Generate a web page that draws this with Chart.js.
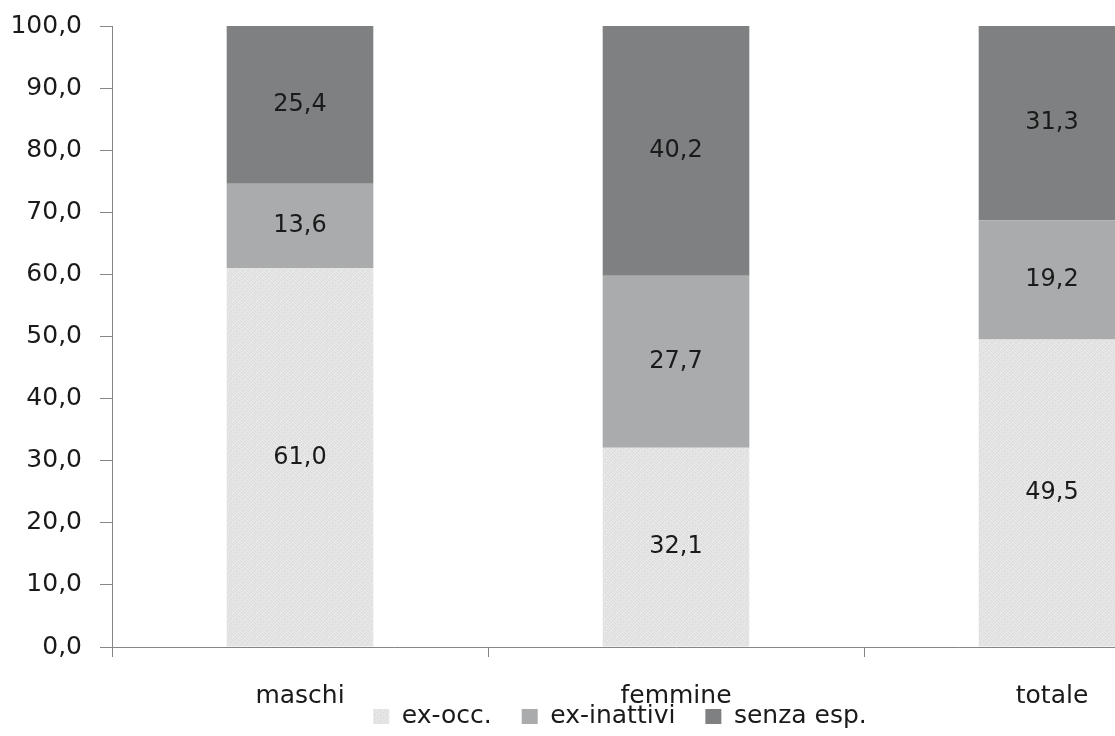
<!DOCTYPE html>
<html>
<head>
<meta charset="utf-8">
<script src="https://cdn.jsdelivr.net/npm/chart.js@4.4.0/dist/chart.umd.min.js"></script>
<style>
  html, body { margin: 0; padding: 0; background: #fff; overflow: hidden; }
  #wrap { width: 1242px; height: 736px; }
</style>
</head>
<body>
<div id="wrap"><canvas id="chart" width="1242" height="736"></canvas></div>
<script>
// categorie e serie
const categories = ['maschi', 'femmine', 'totale'];
const exOcc = [61.0, 32.1, 49.5];
const exInattivi = [13.6, 27.7, 19.2];
const senzaEsp = [25.4, 40.2, 31.3];
const yTicks = [0, 10, 20, 30, 40, 50, 60, 70, 80, 90, 100];

const FONT = 'DejaVu Sans';

function fmt(v) {
    return v.toFixed(1).replace('.', ',');
}

// trama "granito" per ex-occ. (tessera fissa 6x6 di grigi)
function makeTexture() {
    const shades = [
        'e4', 'd9', 'ec', 'df', 'e8', 'dc',
        'ee', 'e0', 'd7', 'ea', 'e2', 'e9',
        'db', 'ea', 'e5', 'dd', 'f0', 'de',
        'e7', 'd8', 'eb', 'e3', 'da', 'ec',
        'df', 'ef', 'dc', 'e9', 'e1', 'd9',
        'ea', 'e2', 'e6', 'd8', 'ed', 'e4'
    ];
    const c = document.createElement('canvas');
    c.width = 6;
    c.height = 6;
    const g = c.getContext('2d');
    shades.forEach((s, k) => {
        g.fillStyle = '#' + s + s + s;
        g.fillRect(k % 6, Math.floor(k / 6), 1, 1);
    });
    return g.createPattern(c, 'repeat');
}

// etichette dentro le barre
const barLabels = {
    id: 'barLabels',
    afterDatasetsDraw(chart) {
        const ctx = chart.ctx;
        ctx.save();
        ctx.font = '24px "' + FONT + '"';
        ctx.fillStyle = '#1a1a1a';
        ctx.textAlign = 'center';
        ctx.textBaseline = 'middle';
        chart.data.datasets.forEach((ds, i) => {
            const meta = chart.getDatasetMeta(i);
            meta.data.forEach((bar, j) => {
                const p = bar.getCenterPoint();
                ctx.fillText(fmt(ds.data[j]), p.x, p.y);
            });
        });
        ctx.restore();
    }
};

const common = {
    barPercentage: 0.39,
    categoryPercentage: 1.0,
    borderWidth: 0
};

new Chart(document.getElementById('chart').getContext('2d'), {
    type: 'bar',
    data: {
        labels: categories,
        datasets: [
            Object.assign({ label: 'ex-occ.', data: exOcc, backgroundColor: makeTexture() }, common),
            Object.assign({ label: 'ex-inattivi', data: exInattivi, backgroundColor: '#a9abac' }, common),
            Object.assign({ label: 'senza esp.', data: senzaEsp, backgroundColor: '#7f8081' }, common)
        ]
    },
    options: {
        responsive: false,
        animation: false,
        devicePixelRatio: 1,
        layout: { padding: { left: 0, right: 2, top: 0, bottom: -3 } },
        scales: {
            x: {
                stacked: true,
                afterFit: axis => {
                    // l'asse x è basso: la legenda sta subito sotto le etichette
                    axis.height = 27;
                    axis._computeLabelArea = () => undefined;
                },
                grid: { drawOnChartArea: false, tickLength: 10, color: '#868686' },
                border: { color: '#868686' },
                ticks: { color: '#1a1a1a', font: { family: FONT, size: 25 }, padding: 24 }
            },
            y: {
                stacked: true,
                min: 0,
                max: 100,
                afterBuildTicks: axis => { axis.ticks = yTicks.map(v => ({ value: v })); },
                afterFit: axis => {
                    axis.width = 112;
                    axis.paddingTop = 26;
                },
                grid: { drawOnChartArea: false, tickLength: 12, color: '#868686' },
                border: { color: '#868686' },
                ticks: {
                    color: '#1a1a1a',
                    font: { family: FONT, size: 25 },
                    padding: 18,
                    callback: v => fmt(v)
                }
            }
        },
        plugins: {
            legend: {
                position: 'bottom',
                labels: {
                    color: '#1a1a1a',
                    font: { family: FONT, size: 25 },
                    boxWidth: 16,
                    boxHeight: 15,
                    padding: 30
                }
            },
            tooltip: { enabled: false }
        }
    },
    plugins: [barLabels]
});
</script>
</body>
</html>
